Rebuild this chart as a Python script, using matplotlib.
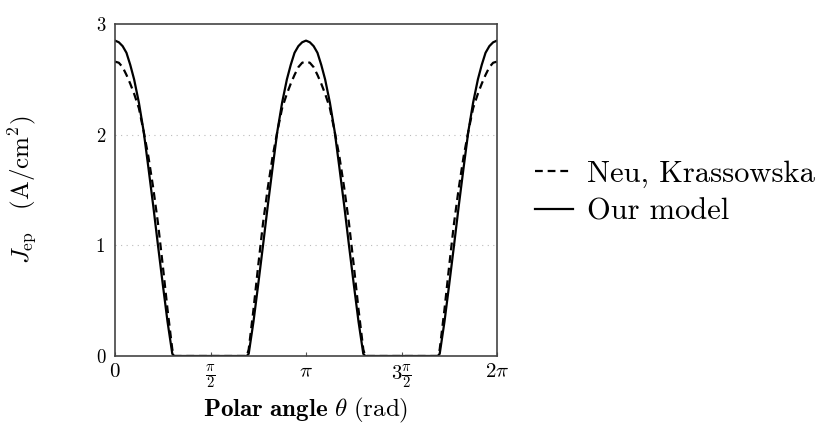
import numpy as np
import matplotlib
matplotlib.use("Agg")
import matplotlib.pyplot as plt

plt.rcParams["mathtext.fontset"] = "cm"
plt.rcParams["font.family"] = ["cmr10", "DejaVu Serif"]
plt.rcParams["axes.formatter.use_mathtext"] = True

# polar angle in units of pi
THETA_PI = [0.0, 0.02, 0.04, 0.06, 0.08, 0.10, 0.125, 0.15, 0.175, 0.20, 0.225, 0.25, 0.275, 0.30, 0.31,
            0.50,
            0.69, 0.70, 0.725, 0.75, 0.775, 0.80, 0.825, 0.85, 0.875, 0.90, 0.92, 0.94, 0.96, 0.98, 1.0,
            1.02, 1.04, 1.06, 1.08, 1.10, 1.125, 1.15, 1.175, 1.20, 1.225, 1.25, 1.275, 1.30, 1.31,
            1.50,
            1.69, 1.70, 1.725, 1.75, 1.775, 1.80, 1.825, 1.85, 1.875, 1.90, 1.92, 1.94, 1.96, 1.98, 2.0]

# J_ep (A/cm^2)
OUR_MODEL = [2.85, 2.835, 2.80, 2.74, 2.63, 2.50, 2.29, 2.03, 1.70, 1.36, 1.00, 0.65, 0.31, 0.02, 0.0,
             0.0,
             0.0, 0.02, 0.31, 0.65, 1.00, 1.36, 1.70, 2.03, 2.29, 2.50, 2.63, 2.74, 2.80, 2.835, 2.85,
             2.835, 2.80, 2.74, 2.63, 2.50, 2.29, 2.03, 1.70, 1.36, 1.00, 0.65, 0.31, 0.02, 0.0,
             0.0,
             0.0, 0.02, 0.31, 0.65, 1.00, 1.36, 1.70, 2.03, 2.29, 2.50, 2.63, 2.74, 2.80, 2.835, 2.85]

NEU_KRASSOWSKA = [2.66, 2.65, 2.61, 2.54, 2.46, 2.37, 2.24, 2.03, 1.80, 1.52, 1.20, 0.82, 0.42, 0.06, 0.0,
                  0.0,
                  0.0, 0.06, 0.42, 0.82, 1.20, 1.52, 1.80, 2.03, 2.24, 2.37, 2.46, 2.54, 2.61, 2.65, 2.66,
                  2.65, 2.61, 2.54, 2.46, 2.37, 2.24, 2.03, 1.80, 1.52, 1.20, 0.82, 0.42, 0.06, 0.0,
                  0.0,
                  0.0, 0.06, 0.42, 0.82, 1.20, 1.52, 1.80, 2.03, 2.24, 2.37, 2.46, 2.54, 2.61, 2.65, 2.66]

XTICKS_PI = [0, 0.5, 1, 1.5, 2]
XTICK_LABELS = [r"$0$", r"$\frac{\pi}{2}$", r"$\pi$", r"$3\frac{\pi}{2}$", r"$2\pi$"]
YTICKS = [0, 1, 2, 3]

theta = np.array(THETA_PI) * np.pi

fig = plt.figure(figsize=(8.25, 4.3), dpi=100)
ax = fig.add_axes([115 / 825, 74 / 430, 382 / 825, 332 / 430])

ax.plot(theta, NEU_KRASSOWSKA, color="black", lw=1.6, ls=(0, (3.5, 2.2)), label="Neu, Krassowska")
ax.plot(theta, OUR_MODEL, color="black", lw=1.6, label="Our model")

ax.set_xlim(0, 2 * np.pi)
ax.set_ylim(0, 3)
ax.set_xticks(np.array(XTICKS_PI) * np.pi)
ax.set_xticklabels(XTICK_LABELS, fontsize=15)
ax.set_yticks(YTICKS)
ax.set_yticklabels([str(v) for v in YTICKS], fontsize=13.5)
ax.tick_params(axis="x", direction="in", length=3, width=0.8, color="#555555", pad=5)
ax.tick_params(axis="y", length=0, pad=7)
for v in [1, 2]:
    ax.axhline(v, color="#bbbbbb", lw=0.8, ls=(0, (1, 4)), zorder=0)
for sp in ax.spines.values():
    sp.set_color("#444444")
    sp.set_linewidth(1.2)

ax.set_xlabel(r"$\mathbf{Polar\ angle}\ \theta\ \mathrm{(rad)}$", fontsize=18, labelpad=4)
ax.set_ylabel(r"$J_{\mathrm{ep}}\quad(\mathrm{A/cm}^2)$", fontsize=18)
ax.yaxis.set_label_coords(-0.20, 0.5)

leg = ax.legend(loc="center left", bbox_to_anchor=(535 / 825, 1 - 193 / 430),
                bbox_transform=fig.transFigure, frameon=False, borderpad=0, borderaxespad=0,
                fontsize=22, handlelength=1.25, handletextpad=0.45, labelspacing=0.35)

fig.savefig("out.png", dpi=100, facecolor="white")
